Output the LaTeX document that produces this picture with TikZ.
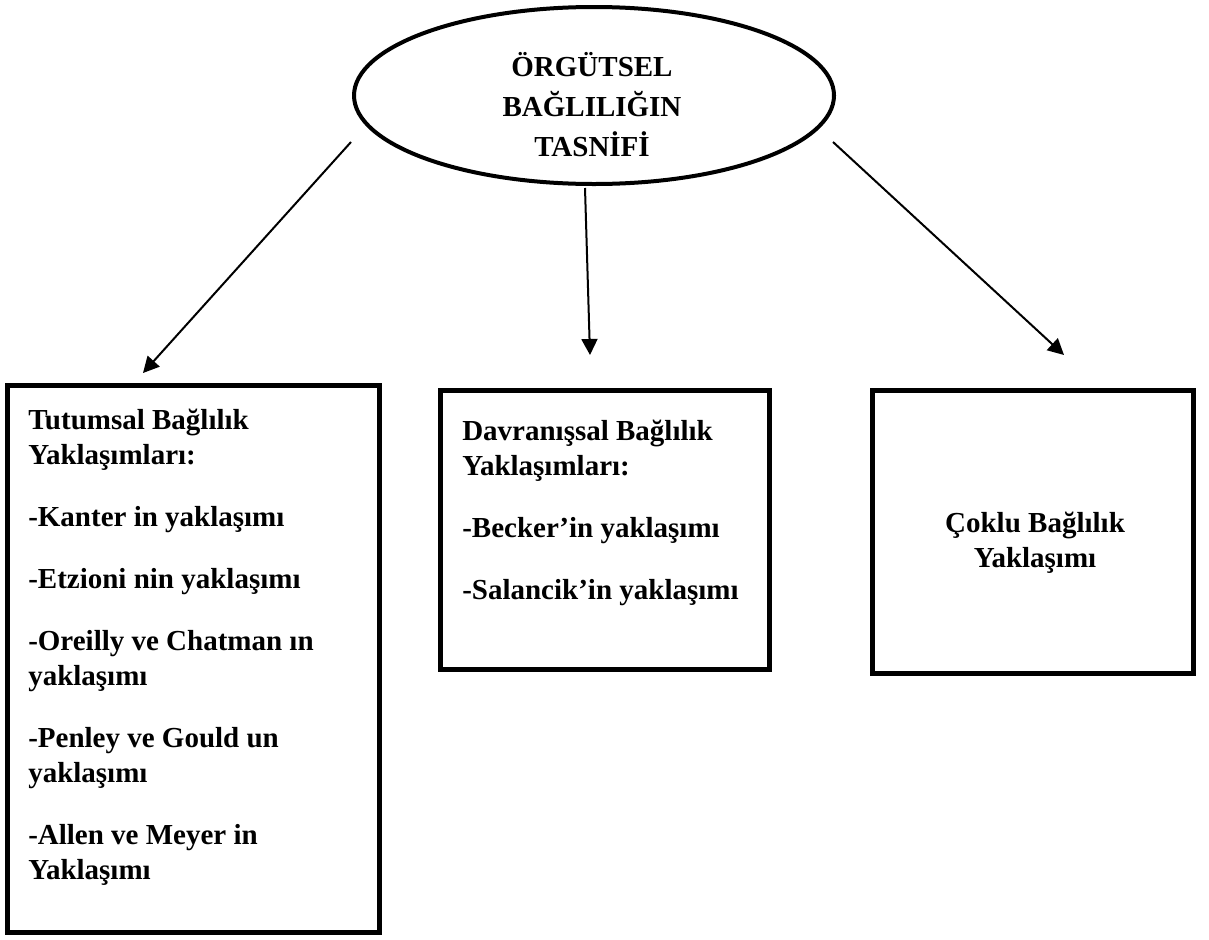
\documentclass[tikz,border=0pt]{standalone}
\usepackage{fontspec}
\setmainfont{Liberation Serif}
\usetikzlibrary{arrows.meta,shapes.geometric}
\newcommand{\TXT}{\fontsize{21.75}{26.25}\selectfont\bfseries}
\newcommand{\GAP}{20.25pt}

\begin{document}
\begin{tikzpicture}[
    x=0.75pt, y=-0.75pt,
    frame/.style={draw=black, line width=3.75pt, inner sep=0pt},
    oval/.style={ellipse, draw=black, line width=3pt, minimum width=360pt, minimum height=132.75pt, inner sep=0pt},
    arr/.style={draw=black, line width=1.5pt, -{Triangle[length=12pt, width=12pt]}},
    lbl/.style={font=\TXT, inner sep=0pt, align=left, anchor=base west},
    clbl/.style={font=\TXT, inner sep=0pt, align=center, anchor=base},
  ]
  \useasboundingbox (0,0) rectangle (1209,939);

  % root of the classification (text placed by its last baseline)
  \node[oval] (org) at (594,95.5) {};
  \node[clbl] (orgtxt) at (592,156) {ÖRGÜTSEL\\[3.4pt]BAĞLILIĞIN\\[3.4pt]TASNİFİ};

  % the three approaches
  \node[frame, minimum width=279pt, minimum height=410.25pt] (tut) at (193.5,659) {};
  \node[frame, minimum width=246.75pt, minimum height=209.25pt] (dav) at (605,530) {};
  \node[frame, minimum width=240.75pt, minimum height=212.25pt] (cok) at (1033,532) {};

  \node[lbl] (tuttxt) at (28,879) {Tutumsal Bağlılık\\Yaklaşımları:\\[\GAP]
    -Kanter in yaklaşımı\\[\GAP]-Etzioni nin yaklaşımı\\[\GAP]
    -Oreilly ve Chatman ın\\yaklaşımı\\[\GAP]-Penley ve Gould un\\yaklaşımı\\[\GAP]
    -Allen ve Meyer in\\Yaklaşımı};
  \node[lbl] (davtxt) at (462,599) {Davranışsal Bağlılık\\Yaklaşımları:\\[\GAP]
    -Becker’in yaklaşımı\\[\GAP]-Salancik’in yaklaşımı};
  \node[clbl] (coktxt) at (1035,567) {Çoklu Bağlılık\\Yaklaşımı};

  % arrows stop short of the boxes
  \coordinate (sL) at (351,142);  \coordinate (eL) at (143,373);
  \coordinate (sM) at (585,188);  \coordinate (eM) at (590,355);
  \coordinate (sR) at (833,142);  \coordinate (eR) at (1064,355);
  \draw[arr] (sL) -- (eL);
  \draw[arr] (sM) -- (eM);
  \draw[arr] (sR) -- (eR);

\end{tikzpicture}
\end{document}
